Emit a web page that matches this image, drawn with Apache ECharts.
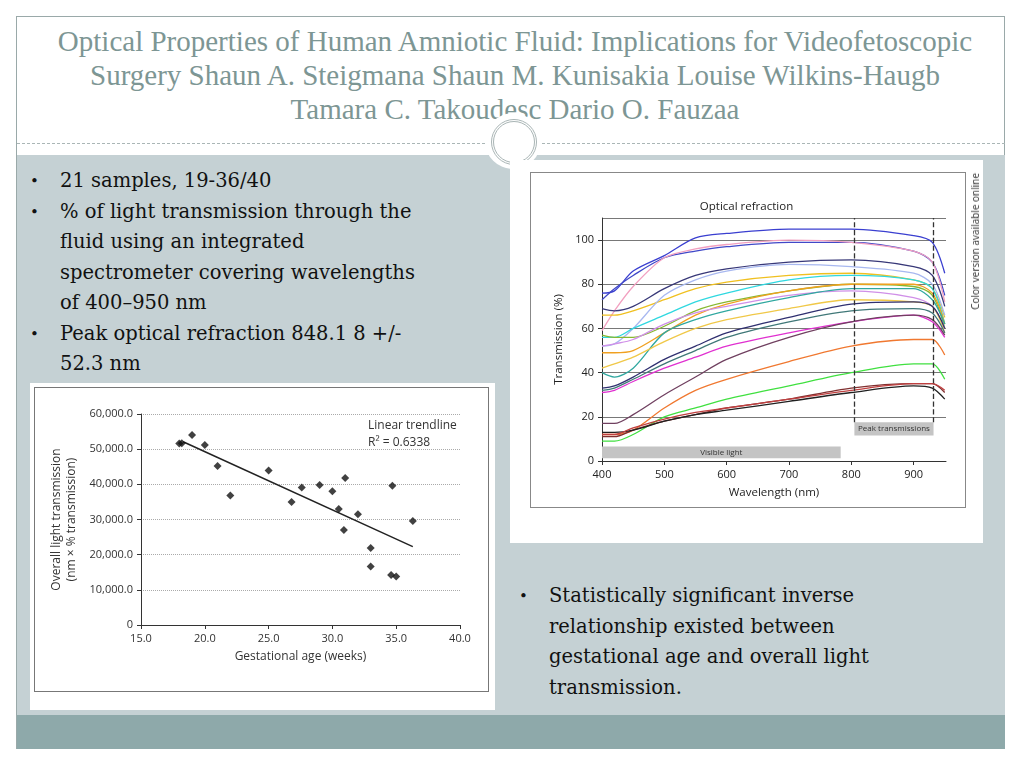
<!DOCTYPE html>
<html><head><meta charset="utf-8">
<script src="https://cdn.jsdelivr.net/npm/echarts@6/dist/echarts.min.js"></script>
<style>
body{margin:0;width:1024px;height:768px;background:#fff;position:relative;overflow:hidden;font-family:"Liberation Serif",serif}
.abs{position:absolute}
#frame{left:16px;top:16px;width:989px;height:733px;border:1px solid #9aa9a9;box-sizing:border-box}
#title{left:20px;top:24px;width:990px;text-align:center;color:#7d9694;font-size:29px;line-height:34px;white-space:nowrap}
#dash{left:17px;top:143px;width:988px;border-top:1px dashed #aab6b6}
#panel{left:17px;top:155px;width:988px;height:560px;background:#c5d1d4}
#band{left:17px;top:715px;width:988px;height:34px;background:#8ea9aa}
#circ{left:485px;top:113px;width:56px;height:56px;border-radius:50%;background:#fff}
#circ2{left:491px;top:119px;width:40px;height:40px;border-radius:50%;border:3px double #a9b5b5}
.bl{font-family:"DejaVu Serif",serif;color:#111;font-size:19.5px;line-height:30.5px;white-space:nowrap}
.bl div{position:relative;padding-left:30px}
.bl span.d{position:absolute;left:0;font-size:15px}
#b1{left:30px;top:166px}
#b2{left:519px;top:581px}
#sbox{left:30px;top:383px;width:465px;height:327px;background:#fff}
#sinner{left:34px;top:387px;width:455px;height:305px;border:1px solid #777;box-sizing:border-box}
#lbox{left:510px;top:160px;width:473px;height:383px;background:#fff}
#linner{left:530px;top:172px;width:436px;height:336px;border:1px solid #888;box-sizing:border-box}
#cv{left:968px;top:173px;font-family:"Open Sans",sans-serif;font-size:10px;color:#333;writing-mode:vertical-rl;transform:rotate(180deg);white-space:nowrap}
</style></head><body>
<div class="abs" id="frame"></div>
<div class="abs" id="title">Optical Properties of Human Amniotic Fluid: Implications for Videofetoscopic<br>Surgery Shaun A. Steigmana Shaun M. Kunisakia Louise Wilkins-Haugb<br>Tamara C. Takoudesc Dario O. Fauzaa</div>
<div class="abs" id="dash"></div>
<div class="abs" id="panel"></div>
<div class="abs" id="band"></div>
<div class="abs" id="circ"></div>
<div class="abs" id="circ2"></div>
<div class="abs bl" id="b1">
<div><span class="d">•</span>21 samples, 19-36/40</div>
<div><span class="d">•</span>% of light transmission through the<br>fluid using an integrated<br>spectrometer covering wavelengths<br>of 400–950 nm</div>
<div><span class="d">•</span>Peak optical refraction 848.1 8 +/-<br>52.3 nm</div></div>
<div class="abs bl" id="b2">
<div><span class="d">•</span>Statistically significant inverse<br>relationship existed between<br>gestational age and overall light<br>transmission.</div></div>
<div class="abs" id="sbox"></div>
<div class="abs" id="sinner"></div>
<div class="abs" id="scatter" style="left:30px;top:383px;width:465px;height:327px"></div>
<div class="abs" id="lbox"></div>
<div class="abs" id="linner"></div>
<div class="abs" id="lines" style="left:510px;top:160px;width:473px;height:383px"></div>
<div class="abs" id="cv">Color version available online</div>
<script>
// scatter: gestational age (weeks) vs overall light transmission
const ageWeeks = [18.0, 18.2, 19.0, 20.0, 21.0, 22.0, 25.0, 26.8, 27.6, 29.0, 30.0, 30.5, 30.9, 31.0, 32.0, 33.0, 33.0, 34.6, 34.7, 35.0, 36.3];
const transmission = [51600, 51700, 54000, 51200, 45200, 36800, 43900, 35000, 39100, 39800, 38000, 33000, 27000, 41800, 31500, 21900, 16600, 14200, 39600, 13800, 29600];
const trendX = [18.3, 36.3];
const trendY = [52100, 22300];

// optical refraction curves
const wavelengths = [400, 420, 450, 500, 550, 600, 700, 800, 900, 930, 950];
const curveColors = ['#3a3fd0','#4048c8','#f2a0c0','#383878','#f0c020','#a8b8f0','#30d8e0','#88b830','#f0a020','#d090e8','#30a8a0','#f0c848','#303070','#407878','#e030d0','#704060','#f07830','#40e040','#803030','#202020','#c04040'];
const curves = [
  [76, 77, 86, 93, 101, 103, 105, 105, 102, 99, 85],
  [73, 78, 84, 92, 95, 97, 99, 99, 95, 90, 75],
  [59, 68, 79, 92, 96, 98, 100, 99, 95, 90, 72],
  [69, 68, 70, 78, 84, 87, 90, 91, 88, 84, 70],
  [66, 66, 68, 73, 78, 81, 84, 85, 82, 78, 65],
  [52, 53, 60, 75, 82, 86, 89, 88, 85, 80, 66],
  [56, 56, 60, 66, 72, 76, 82, 84, 82, 78, 62],
  [57, 56, 56, 61, 68, 72, 77, 80, 79, 75, 60],
  [49, 49, 50, 58, 66, 71, 77, 80, 80, 76, 62],
  [52, 53, 55, 62, 67, 70, 75, 77, 74, 70, 60],
  [40, 38, 42, 58, 64, 68, 74, 78, 78, 73, 62],
  [42, 44, 47, 54, 60, 64, 69, 73, 72, 70, 58],
  [33, 34, 38, 46, 52, 58, 65, 71, 72, 70, 60],
  [32, 33, 37, 44, 50, 56, 63, 68, 69, 67, 58],
  [31, 32, 36, 42, 47, 52, 58, 63, 66, 63, 56],
  [17, 17, 21, 30, 38, 46, 56, 63, 66, 64, 57],
  [12, 12, 14, 24, 32, 37, 45, 52, 55, 55, 48],
  [9, 9, 12, 20, 24, 28, 34, 40, 44, 44, 37],
  [11, 11, 14, 18, 21, 24, 28, 33, 35, 35, 31],
  [13, 13, 14, 18, 21, 23, 27, 31, 34, 33, 28],
  [12, 12, 15, 19, 22, 24, 28, 32, 35, 35, 32]
];
const visibleRange = [400, 783];
const peakRange = [805, 932];

const font = '"Open Sans", sans-serif';

const sc = echarts.init(document.getElementById('scatter'));
sc.setOption({
  animation: false,
  textStyle: {fontFamily: font},
  grid: {left: 111, right: 35, top: 31, bottom: 85},
  xAxis: {
    type: 'value', min: 15, max: 40, interval: 5,
    name: 'Gestational age (weeks)', nameLocation: 'middle', nameGap: 26,
    nameTextStyle: {fontSize: 12, color: '#333'},
    axisLine: {lineStyle: {color: '#333'}}, axisTick: {show: true, length: 4, lineStyle: {color: '#333'}},
    axisLabel: {color: '#333', fontSize: 11, formatter: v => v.toFixed(1)},
    splitLine: {show: false}
  },
  yAxis: {
    type: 'value', min: 0, max: 60000, interval: 10000,
    name: 'Overall light transmission\n(nm × % transmission)', nameLocation: 'middle', nameGap: 45,
    nameTextStyle: {fontSize: 12, color: '#333', lineHeight: 15},
    axisLine: {show: true, lineStyle: {color: '#333'}}, axisTick: {show: true, length: 4, lineStyle: {color: '#333'}},
    axisLabel: {color: '#333', fontSize: 11, formatter: v => v === 0 ? '0' : v.toLocaleString('en-US') + '.0'},
    splitLine: {lineStyle: {color: '#aaa', type: 'dotted'}}
  },
  graphic: [{type: 'text', left: 338, top: 34, style: {text: 'Linear trendline\nR² = 0.6338', fontSize: 12, fontFamily: font, fill: '#333', lineHeight: 17}}],
  series: [
    {type: 'scatter', symbol: 'diamond', symbolSize: 8, itemStyle: {color: '#111'},
     data: ageWeeks.map((a, i) => [a, transmission[i]]), z: 3},
    {type: 'line', symbol: 'none', lineStyle: {color: '#222', width: 1.5},
     data: trendX.map((a, i) => [a, trendY[i]])}
  ]
});

const lc = echarts.init(document.getElementById('lines'));
const series = curves.map((c, i) => ({
  type: 'line', smooth: 0.3, symbol: 'none', silent: true,
  lineStyle: {color: curveColors[i], width: 1.3},
  data: wavelengths.map((w, j) => [w, c[j]])
}));
series.push({
  type: 'line', data: [], silent: true,
  markArea: {silent: true, itemStyle: {color: '#c4c4c4'},
    label: {show: true, position: 'inside', fontSize: 8, color: '#333', fontFamily: font},
    data: [
      [{name: 'Visible light', xAxis: visibleRange[0], yAxis: 1.2}, {xAxis: visibleRange[1], yAxis: 6.6}],
      [{name: 'Peak transmissions', xAxis: peakRange[0], yAxis: 11.5}, {xAxis: peakRange[1], yAxis: 17.5}]
    ]},
  markLine: {silent: true, symbol: 'none', label: {show: false},
    lineStyle: {color: '#333', type: 'dashed', width: 1.3},
    data: [[{coord: [peakRange[0], 17.5]}, {coord: [peakRange[0], 110]}],
           [{coord: [peakRange[1], 17.5]}, {coord: [peakRange[1], 110]}]]}
});
lc.setOption({
  animation: false,
  textStyle: {fontFamily: font},
  title: {text: 'Optical refraction', left: 'center', top: 36, textStyle: {fontSize: 11.5, fontWeight: 'normal', color: '#222', fontFamily: font}},
  grid: {left: 92, right: 37, top: 58, bottom: 82},
  xAxis: {
    type: 'value', min: 400, max: 952, interval: 100,
    name: 'Wavelength (nm)', nameLocation: 'middle', nameGap: 26,
    nameTextStyle: {fontSize: 11.5, color: '#222'},
    axisLine: {lineStyle: {color: '#333'}}, axisTick: {length: 4, lineStyle: {color: '#333'}},
    axisLabel: {color: '#222', fontSize: 11, showMaxLabel: false},
    splitLine: {show: false}
  },
  yAxis: {
    type: 'value', min: 0, max: 110, interval: 20,
    name: 'Transmission (%)', nameLocation: 'middle', nameGap: 32,
    nameTextStyle: {fontSize: 11.5, color: '#222'},
    axisLine: {show: true, lineStyle: {color: '#333'}}, axisTick: {show: true, length: 4, lineStyle: {color: '#333'}},
    axisLabel: {color: '#222', fontSize: 11, showMaxLabel: false},
    splitLine: {lineStyle: {color: '#555', width: 0.8}}
  },
  series: series
});
</script>
</body></html>
